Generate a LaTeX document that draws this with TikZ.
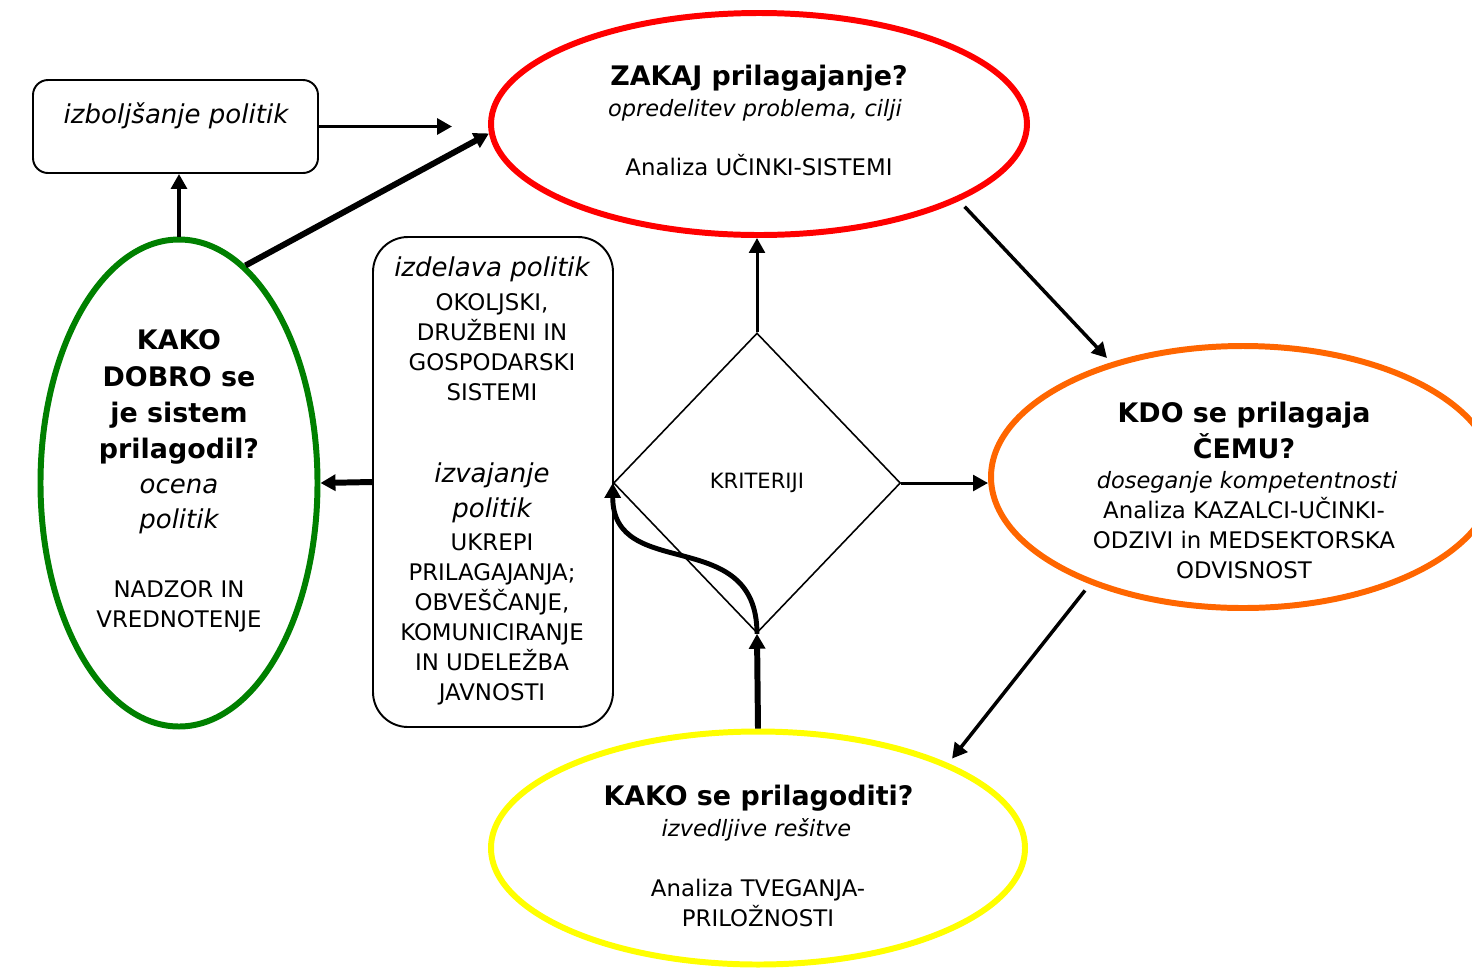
\documentclass[tikz,border=0pt]{standalone}
\usepackage{fontspec}
\setmainfont{DejaVu Sans}
\usetikzlibrary{shapes.geometric,arrows.meta,positioning}
\definecolor{rdeca}{RGB}{255,0,0}
\definecolor{zelena}{RGB}{0,128,0}
\definecolor{oranzna}{RGB}{255,102,0}
\definecolor{rumena}{RGB}{255,255,0}
\tikzstyle{every link} = []
\tikzstyle{link} = [-{Triangle[length=8.5pt,width=9pt]}, draw, line width=2pt, every link]
\tikzstyle{vprasanje} = [ellipse, draw, line width=3.4pt, inner sep=0pt]
\tikzstyle{okvir} = [rectangle, draw, line width=1.1pt, inner sep=0pt]
\tikzstyle{naslov} = [anchor=base, inner sep=0pt, font=\fontsize{15.3}{18}\bfseries]
\tikzstyle{podnaslov} = [anchor=base, inner sep=0pt, font=\fontsize{12.8}{15}\itshape]
\tikzstyle{opomba} = [anchor=base, inner sep=0pt, font=\fontsize{14.8}{18}\itshape]
\tikzstyle{besedilo} = [anchor=base, inner sep=0pt, font=\fontsize{13}{16}\selectfont]

\begin{document}
\begin{tikzpicture}
        \useasboundingbox (0,0) rectangle (29.44,-19.36);

        \node[vprasanje, draw=rdeca, minimum width=10.72cm, minimum height=4.44cm] (zakaj) at (15.18,-2.48) {};
        \node[vprasanje, draw=zelena, minimum width=5.54cm, minimum height=9.74cm] (dobro) at (3.58,-9.66) {};
        \node[vprasanje, draw=oranzna, minimum width=10.08cm, minimum height=5.24cm] (kdo) at (24.86,-9.54) {};
        \node[vprasanje, draw=rumena, minimum width=10.68cm, minimum height=4.66cm] (kako) at (15.16,-16.96) {};
        \node[okvir, rounded corners=0.3cm, minimum width=5.7cm, minimum height=1.86cm] (izbolj) at (3.51,-2.53) {};
        \node[okvir, rounded corners=0.7cm, minimum width=4.8cm, minimum height=9.8cm] (izdelava) at (9.86,-9.64) {};
        \node[diamond, draw, line width=0.9pt, inner sep=0pt, minimum width=5.74cm, minimum height=6cm,
            font=\fontsize{12}{14}\selectfont] (krit) at (15.14,-9.66) {KRITERIJI};

        % ZAKAJ
        \node[naslov] (zakaj-n) at (15.18,-1.70) {ZAKAJ prilagajanje?};
        \node[podnaslov] (zakaj-p) at (15.10,-2.32) {opredelitev problema, cilji};
        \node[besedilo] (zakaj-b) at (15.18,-3.50) {Analiza UČINKI-SISTEMI};

        \node[opomba] (izbolj-t) at (3.52,-2.46) {izboljšanje politik};

        % KAKO DOBRO
        \foreach \y/\t [count=\i] in {6.98/KAKO, 7.72/DOBRO se, 8.44/je sistem, 9.16/prilagodil?}
            \node[naslov] (dobro-n\i) at (3.58,-\y) {\t};
        \foreach \y/\t [count=\i] in {9.86/ocena, 10.56/politik}
            \node[opomba] (dobro-p\i) at (3.58,-\y) {\t};
        \foreach \y/\t [count=\i] in {11.94/NADZOR IN, 12.54/VREDNOTENJE}
            \node[besedilo] (dobro-b\i) at (3.58,-\y) {\t};

        % KDO
        \foreach \y/\t [count=\i] in {8.44/KDO se prilagaja, 9.16/ČEMU?}
            \node[naslov] (kdo-n\i) at (24.88,-\y) {\t};
        \node[podnaslov] (kdo-p) at (24.94,-9.76) {doseganje kompetentnosti};
        \foreach \y/\t [count=\i] in {10.36/Analiza KAZALCI-UČINKI-, 10.96/ODZIVI in MEDSEKTORSKA, 11.56/ODVISNOST}
            \node[besedilo] (kdo-b\i) at (24.88,-\y) {\t};

        % KAKO
        \node[naslov] (kako-n) at (15.17,-16.10) {KAKO se prilagoditi?};
        \node[podnaslov] (kako-p) at (15.13,-16.72) {izvedljive rešitve};
        \foreach \y/\t [count=\i] in {17.92/Analiza TVEGANJA-, 18.52/PRILOŽNOSTI}
            \node[besedilo] (kako-b\i) at (15.16,-\y) {\t};

        % politike
        \node[opomba] (izdelava-p) at (9.84,-5.52) {izdelava politik};
        \foreach \y/\t [count=\i] in {{6.20/OKOLJSKI,}, 6.80/DRUŽBENI IN, 7.40/GOSPODARSKI, 8.00/SISTEMI}
            \node[besedilo] (izdelava-b\i) at (9.84,-\y) {\t};
        \foreach \y/\t [count=\i] in {9.64/izvajanje, 10.34/politik}
            \node[opomba] (izvajanje-p\i) at (9.84,-\y) {\t};
        \foreach \y/\t [count=\i] in {11.00/UKREPI, 11.60/PRILAGAJANJA;, {12.20/OBVEŠČANJE,}, 12.80/KOMUNICIRANJE, 13.40/IN UDELEŽBA, 14.00/JAVNOSTI}
            \node[besedilo] (izvajanje-b\i) at (9.84,-\y) {\t};

        \draw[link, shorten >=0.72cm] (izbolj.east) -- (izbolj.east -| zakaj.west);
        \draw[link] (dobro.north) -- (dobro.north |- izbolj.south);
        \draw[link, line width=3.4pt] (dobro.73) -- (zakaj.182);
        \draw[link, line width=1.7pt] (krit.north) -- (krit.north |- zakaj.south);
        \draw[link, shorten <=0.16cm, shorten >=0.12cm] (zakaj.-21) -- (kdo.139);
        \draw[link, line width=1.7pt] (krit.east) -- (krit.east -| kdo.west);
        \draw[link, shorten <=0.16cm, shorten >=0.12cm] (kdo.-145) -- (kako.24);
        \draw[link, line width=3.4pt] (kako.north) -- (krit.south);
        \draw[link, line width=2.8pt] (krit.south) .. controls +(0,2.2) and +(0,-2.0) .. (krit.west);
        \draw[link, line width=3.4pt] (izdelava.west) -- (dobro.east);

\end{tikzpicture}
\end{document}
